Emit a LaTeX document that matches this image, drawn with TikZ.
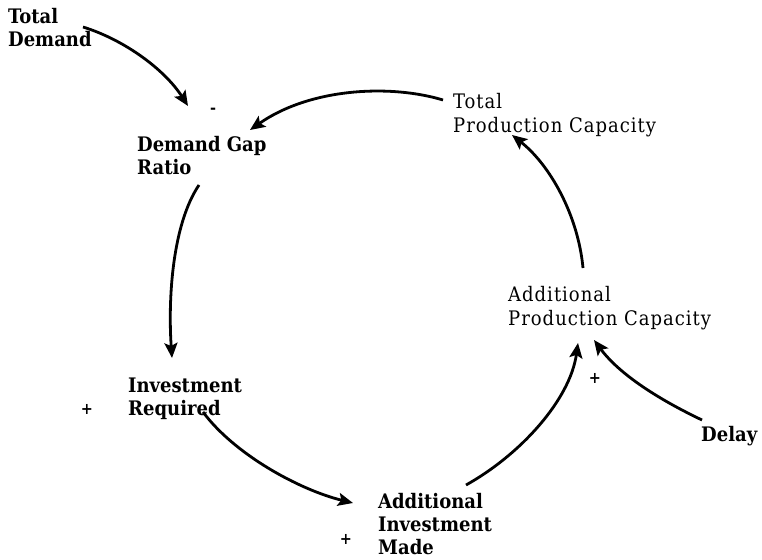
\documentclass[tikz,border=0pt]{standalone}
\usepackage{fontspec}
\setmainfont{DejaVu Serif Condensed}
\newfontfamily\regfont[LetterSpace=5]{DejaVu Serif Condensed}
\usetikzlibrary{arrows.meta}
\tikzset{
  lbl/.style={anchor=north west, inner sep=0pt, align=left, font=\fontsize{20}{23}\selectfont\bfseries},
  lblreg/.style={anchor=north west, inner sep=0pt, align=left, font=\fontsize{20}{24}\selectfont\regfont},
  sgn/.style={inner sep=0pt, font=\fontsize{16}{16}\selectfont\bfseries},
  link/.style={line width=2.8pt, -{Stealth[length=15pt,width=13pt,inset=3pt]}},
}
\begin{document}
\begin{tikzpicture}[x=1pt,y=-1pt]
\useasboundingbox (0,0) rectangle (762,559);
% labels
\node[lbl] (td) at (8,8) {Total\\Demand};
\node[lbl] (dgr) at (137,136) {Demand Gap\\Ratio};
\node[lblreg] (tpc) at (453,93) {Total\\Production Capacity};
\node[lblreg] (apc) at (508,286) {Additional\\Production Capacity};
\node[lbl] (ir) at (128,378) {Investment\\Required};
\node[lbl] (aim) at (378,493) {Additional\\Investment\\Made};
\node[lbl] (dl) at (701,426) {Delay};
% signs
\node[sgn] (s1) at (87,409) {+};
\node[sgn] (s2) at (346,539) {+};
\node[sgn] (s3) at (595,378) {+};
\node[sgn] (s4) at (213,111) {-};
% connector ends
\coordinate (tdA) at (83,27);
\coordinate (dgrA) at (188,106);
\coordinate (tpcA) at (443,100);
\coordinate (dgrB) at (250,130);
\coordinate (dgrC) at (199,185);
\coordinate (irA) at (172,358);
\coordinate (irB) at (203,412);
\coordinate (aimA) at (353,503);
\coordinate (aimB) at (466,485);
\coordinate (apcA) at (578,343);
\coordinate (dlA) at (702,420);
\coordinate (apcB) at (594,340);
\coordinate (apcC) at (583,268);
\coordinate (tpcB) at (512,135);
% connectors
\draw[link] (tdA) .. controls (125,40) and (165,70) .. (dgrA);
\draw[link] (tpcA) .. controls (390,84) and (310,88) .. (dgrB);
\draw[link] (dgrC) .. controls (172,225) and (168,300) .. (irA);
\draw[link] (irB) .. controls (235,455) and (300,490) .. (aimA);
\draw[link] (aimB) .. controls (520,455) and (570,400) .. (apcA);
\draw[link] (dlA) .. controls (660,400) and (620,375) .. (apcB);
\draw[link] (apcC) .. controls (578,215) and (550,165) .. (tpcB);
\end{tikzpicture}
\end{document}
